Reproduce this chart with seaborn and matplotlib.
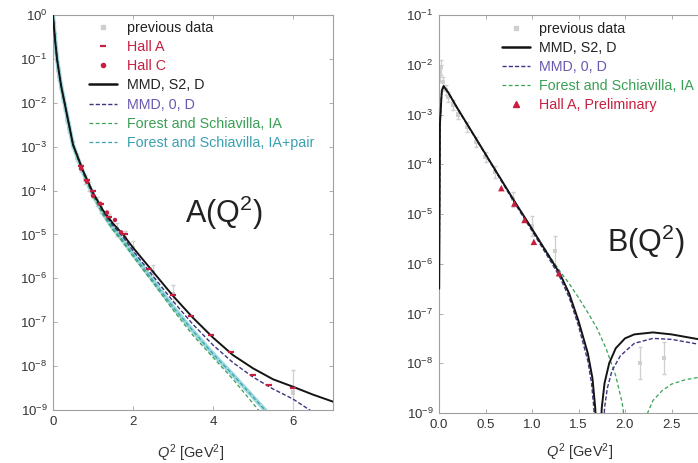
import numpy as np
import pandas as pd
import matplotlib
matplotlib.use("Agg")
import matplotlib.pyplot as plt
import seaborn as sns
from matplotlib.ticker import NullLocator, FixedLocator
from matplotlib.lines import Line2D

sns.set_theme(style="white")
plt.rcParams['font.family'] = ['Liberation Sans', 'DejaVu Sans']
plt.rcParams['mathtext.fontset'] = 'custom'
plt.rcParams['mathtext.rm'] = 'Liberation Sans'
plt.rcParams['mathtext.it'] = 'Liberation Sans:italic'

# ---------------- A(Q^2) panel data (log10 values) ----------------
a_q2 = [0.0, 0.05, 0.1, 0.2, 0.3, 0.5, 0.75, 1.0, 1.25, 1.5, 1.75, 2.0, 2.5, 3.0,
        3.5, 4.0, 4.5, 5.0, 5.5, 6.0, 6.5, 7.0]
a_mmd_s2 = [0.0, -0.55, -1.0, -1.6, -2.05, -2.95, -3.55, -4.05, -4.45, -4.75, -5.0,
            -5.3, -5.85, -6.4, -6.9, -7.35, -7.75, -8.05, -8.3, -8.47, -8.65, -8.81]
a_mmd_0 = [0.0, -0.55, -1.0, -1.6, -2.05, -2.95, -3.56, -4.07, -4.48, -4.8, -5.06,
           -5.37, -5.95, -6.52, -7.05, -7.52, -7.92, -8.25, -8.52, -8.75, -9.05, -9.3]
a_fs_ia = [0.0, -0.55, -1.0, -1.61, -2.07, -2.98, -3.6, -4.12, -4.55, -4.9, -5.18,
           -5.5, -6.1, -6.72, -7.3, -7.8, -8.3, -8.85, -9.4, -9.9, -10.4, -10.9]
a_fs_pair = [0.0, -0.55, -1.0, -1.6, -2.06, -2.97, -3.58, -4.1, -4.52, -4.86, -5.14,
             -5.45, -6.05, -6.65, -7.2, -7.72, -8.2, -8.7, -9.2, -9.7, -10.2, -10.7]

prev_a_q2 = [0.02, 0.04, 0.06, 0.08, 0.1, 0.13, 0.16, 0.2, 0.25, 0.3, 0.35, 0.4, 0.5,
             0.6, 0.7, 0.8, 0.9, 1.0, 1.1, 1.2, 1.4, 1.6, 1.8, 2.0, 2.5, 3.0, 6.0]
prev_a_val = [-0.2, -0.45, -0.65, -0.82, -1.0, -1.25, -1.42, -1.65, -1.9, -2.1, -2.4,
              -2.6, -2.95, -3.25, -3.5, -3.75, -3.9, -4.08, -4.25, -4.4, -4.65, -4.88,
              -5.08, -5.3, -5.85, -6.35, -8.6]
prev_a_err = [0.05, 0.05, 0.05, 0.05, 0.05, 0.06, 0.06, 0.06, 0.06, 0.07, 0.07, 0.07,
              0.08, 0.08, 0.08, 0.1, 0.1, 0.1, 0.1, 0.12, 0.12, 0.15, 0.15, 0.15,
              0.15, 0.2, 0.5]

hallA_q2 = [0.7, 0.85, 1.0, 1.2, 1.4, 1.8, 2.4, 3.0, 3.45, 3.95, 4.45, 5.0, 5.4, 6.0]
hallA_val = [-3.45, -3.75, -4.0, -4.3, -4.6, -5.0, -5.78, -6.38, -6.85, -7.28, -7.68,
             -8.2, -8.42, -8.5]
hallC_q2 = [0.7, 0.85, 1.0, 1.18, 1.35, 1.55, 1.7]
hallC_val = [-3.5, -3.8, -4.12, -4.3, -4.5, -4.67, -4.95]

# ---------------- B(Q^2) panel data (log10 values) ----------------
b_s2_q2 = [0.002, 0.01, 0.03, 0.05, 0.1, 0.2, 0.4, 0.6, 0.8, 1.0, 1.2, 1.3, 1.4, 1.5,
           1.6, 1.65, 1.68, 1.695]
b_s2_val = [-6.5, -3.2, -2.52, -2.43, -2.56, -2.88, -3.49, -4.1, -4.71, -5.3, -5.9,
            -6.2, -6.6, -7.15, -7.8, -8.3, -8.9, -9.5]
b_s2_q2b = [1.735, 1.75, 1.78, 1.83, 1.9, 2.0, 2.1, 2.3, 2.5, 2.8, 3.0]
b_s2_valb = [-9.5, -8.9, -8.4, -8.0, -7.7, -7.5, -7.42, -7.38, -7.42, -7.52, -7.58]

b_m0_q2 = [0.002, 0.01, 0.03, 0.05, 0.1, 0.2, 0.4, 0.6, 0.8, 1.0, 1.2, 1.3, 1.4, 1.5,
           1.6, 1.64, 1.665, 1.68]
b_m0_val = [-6.5, -3.2, -2.52, -2.43, -2.56, -2.89, -3.5, -4.12, -4.74, -5.34, -5.95,
            -6.27, -6.68, -7.25, -7.95, -8.4, -8.9, -9.5]
b_m0_q2b = [1.765, 1.78, 1.81, 1.86, 1.95, 2.1, 2.3, 2.5, 2.8, 3.0]
b_m0_valb = [-9.5, -8.9, -8.5, -8.15, -7.85, -7.6, -7.5, -7.52, -7.62, -7.68]

b_fs_q2 = [0.002, 0.01, 0.03, 0.05, 0.1, 0.2, 0.4, 0.6, 0.8, 1.0, 1.2, 1.3, 1.4, 1.5,
           1.6, 1.7, 1.8, 1.9, 1.97, 2.02]
b_fs_val = [-6.5, -3.2, -2.52, -2.43, -2.56, -2.88, -3.49, -4.1, -4.71, -5.3, -5.88,
            -6.15, -6.4, -6.68, -6.98, -7.3, -7.72, -8.25, -8.8, -9.5]
b_fs_q2b = [2.17, 2.22, 2.3, 2.4, 2.5, 2.65, 2.8, 3.0]
b_fs_valb = [-9.5, -9.1, -8.75, -8.55, -8.42, -8.33, -8.28, -8.25]

prev_b_q2 = [0.01, 0.02, 0.04, 0.07, 0.1, 0.15, 0.2, 0.3, 0.4, 0.5, 0.6, 0.8, 1.0,
             1.25, 2.16, 2.42]
prev_b_val = [-2.2, -2.05, -2.35, -2.5, -2.65, -2.8, -3.0, -3.25, -3.55, -3.85, -4.15,
              -4.7, -5.25, -5.75, -8.0, -7.9]
prev_b_err = [0.15, 0.15, 0.1, 0.1, 0.1, 0.1, 0.1, 0.1, 0.1, 0.1, 0.12, 0.15, 0.2,
              0.3, 0.32, 0.32]

hallAB_q2 = [0.67, 0.81, 0.92, 1.02, 1.29]
hallAB_val = [-4.48, -4.79, -5.12, -5.56, -6.19]

# ---------------- styling ----------------
C_BLACK = "#141414"
C_PURPLE = "#3c3680"
C_PURPLE_TXT = "#6a58b0"
C_GREEN = "#3aa055"
C_CYAN = "#3aa0b0"
C_RED = "#c81e40"
C_PREV = "#cfcfcf"
C_SPINE = "#a0a0a0"
FS_LEG = 10.3
FS_TICK = 9.5

fig = plt.figure(figsize=(6.98, 4.63), dpi=100)
axA = fig.add_axes([53/698, 1-410/463, 280/698, 395/463])
axB = fig.add_axes([439/698, 1-413/463, 279/698, 398/463])


def df(x, ylog):
    return pd.DataFrame({"x": x, "y": 10.0 ** np.asarray(ylog, float)})


def line(ax, x, ylog, **kw):
    sns.lineplot(data=df(x, ylog), x="x", y="y", ax=ax, sort=False,
                 estimator=None, legend=False, **kw)


def prev(ax, x, ylog, err):
    x = np.asarray(x); y = np.asarray(ylog, float); e = np.asarray(err)
    lo = 10 ** y - 10 ** (y - e)
    hi = 10 ** (y + e) - 10 ** y
    ax.errorbar(x, 10 ** y, yerr=[lo, hi], fmt="none", ecolor=C_PREV,
                elinewidth=0.9, capsize=1.5, zorder=1)
    sns.scatterplot(data=df(x, y), x="x", y="y", ax=ax, color=C_PREV, s=9,
                    marker="s", edgecolor="none", zorder=1, legend=False)


# ---- Panel A ----
prev(axA, prev_a_q2, prev_a_val, prev_a_err)
line(axA, a_q2, a_fs_pair, color="#9ad8dc", lw=3.0, zorder=2)
line(axA, a_q2, a_fs_pair, color=C_CYAN, lw=0.9, linestyle=(0, (3, 2)), zorder=3)
line(axA, a_q2, a_fs_ia, color=C_GREEN, lw=0.9, linestyle=(0, (3, 2)), zorder=3)
line(axA, a_q2, a_mmd_0, color=C_PURPLE, lw=1.0, linestyle=(0, (3, 1.5)), zorder=4)
line(axA, a_q2, a_mmd_s2, color=C_BLACK, lw=1.4, zorder=5)
sns.scatterplot(data=df(hallA_q2, hallA_val), x="x", y="y", ax=axA, color=C_RED,
                marker="_", s=22, linewidth=1.6, zorder=6, legend=False)
sns.scatterplot(data=df(hallC_q2, hallC_val), x="x", y="y", ax=axA, color=C_RED,
                marker="o", s=10, edgecolor="none", zorder=6, legend=False)

axA.set_yscale("log")
axA.set_xlim(0, 7)
axA.set_ylim(1e-9, 1)
axA.yaxis.set_major_locator(FixedLocator([10.0 ** k for k in range(-9, 1)]))
axA.xaxis.set_major_locator(FixedLocator([0, 2, 4, 6]))
axA.set_xticklabels(["0", "2", "4", "6"])
axA.set_xlabel(r"$Q^2$ [GeV$^2$]", fontsize=10.5, color="#333333")
axA.xaxis.set_label_coords(0.49, -0.082)
axA.set_ylabel("")
axA.text(0.61, 0.50, r"A(Q$^2$)", transform=axA.transAxes, fontsize=22,
         ha="center", va="center", color="#222222")

hA = [Line2D([], [], color=C_PREV, marker="s", ms=3, ls="none"),
      Line2D([], [], color=C_RED, marker="_", ms=5, mew=1.6, ls="none"),
      Line2D([], [], color=C_RED, marker="o", ms=3, ls="none"),
      Line2D([], [], color=C_BLACK, lw=1.8),
      Line2D([], [], color=C_PURPLE, lw=1.0, ls=(0, (3, 1.5))),
      Line2D([], [], color=C_GREEN, lw=0.9, ls=(0, (3, 2))),
      Line2D([], [], color=C_CYAN, lw=0.9, ls=(0, (3, 2)))]
lA = ["previous data", "Hall A", "Hall C", "MMD, S2, D", "MMD, 0, D",
      "Forest and Schiavilla, IA", "Forest and Schiavilla, IA+pair"]
cA = ["#222222", C_RED, C_RED, "#222222", C_PURPLE_TXT, C_GREEN, C_CYAN]
legA = axA.legend(hA, lA, loc="upper left", bbox_to_anchor=(0.13, 0.985),
                  frameon=False, fontsize=FS_LEG, handlelength=1.95,
                  handletextpad=0.7, labelspacing=0.36, borderaxespad=0,
                  borderpad=0)
for t, c in zip(legA.get_texts(), cA):
    t.set_color(c)

# ---- Panel B ----
prev(axB, prev_b_q2, prev_b_val, prev_b_err)
line(axB, b_fs_q2, b_fs_val, color=C_GREEN, lw=0.9, linestyle=(0, (3, 2)), zorder=3)
line(axB, b_fs_q2b, b_fs_valb, color=C_GREEN, lw=0.9, linestyle=(0, (3, 2)), zorder=3)
line(axB, b_m0_q2, b_m0_val, color=C_PURPLE, lw=1.0, linestyle=(0, (3, 1.5)), zorder=4)
line(axB, b_m0_q2b, b_m0_valb, color=C_PURPLE, lw=1.0, linestyle=(0, (3, 1.5)), zorder=4)
line(axB, b_s2_q2, b_s2_val, color=C_BLACK, lw=1.4, zorder=5)
line(axB, b_s2_q2b, b_s2_valb, color=C_BLACK, lw=1.4, zorder=5)
sns.scatterplot(data=df(hallAB_q2, hallAB_val), x="x", y="y", ax=axB, color=C_RED,
                marker="^", s=22, edgecolor="none", zorder=6, legend=False)

axB.set_yscale("log")
axB.set_xlim(0, 3.0)
axB.set_ylim(1e-9, 1e-1)
axB.yaxis.set_major_locator(FixedLocator([10.0 ** k for k in range(-9, 0)]))
axB.xaxis.set_major_locator(FixedLocator([0, 0.5, 1.0, 1.5, 2.0, 2.5]))
axB.set_xticklabels(["0.0", "0.5", "1.0", "1.5", "2.0", "2.5"])
axB.set_xlabel(r"$Q^2$ [GeV$^2$]", fontsize=10.5, color="#333333")
axB.xaxis.set_label_coords(141/279, -0.072)
axB.set_ylabel("")
axB.text(0.74, 0.43, r"B(Q$^2$)", transform=axB.transAxes, fontsize=22,
         ha="center", va="center", color="#222222")

hB = [Line2D([], [], color=C_PREV, marker="s", ms=3, ls="none"),
      Line2D([], [], color=C_BLACK, lw=1.8),
      Line2D([], [], color=C_PURPLE, lw=1.0, ls=(0, (3, 1.5))),
      Line2D([], [], color=C_GREEN, lw=0.9, ls=(0, (3, 2))),
      Line2D([], [], color=C_RED, marker="^", ms=4, ls="none")]
lB = ["previous data", "MMD, S2, D", "MMD, 0, D", "Forest and Schiavilla, IA",
      "Hall A, Preliminary"]
cB = ["#222222", "#222222", C_PURPLE_TXT, C_GREEN, C_RED]
legB = axB.legend(hB, lB, loc="upper left", bbox_to_anchor=(0.226, 0.983),
                  frameon=False, fontsize=FS_LEG, handlelength=1.95,
                  handletextpad=0.6, labelspacing=0.36, borderaxespad=0,
                  borderpad=0)
for t, c in zip(legB.get_texts(), cB):
    t.set_color(c)

for ax in (axA, axB):
    ax.yaxis.set_minor_locator(NullLocator())
    ax.xaxis.set_minor_locator(NullLocator())
    for s in ax.spines.values():
        s.set_color(C_SPINE)
        s.set_linewidth(0.8)
    ax.tick_params(axis="both", which="major", direction="in", length=3,
                   width=0.6, color=C_SPINE, labelsize=FS_TICK,
                   labelcolor="#333333", top=True, right=True, left=True,
                   bottom=True, pad=4)
    ax.grid(False)

fig.savefig("out.png", dpi=100)
